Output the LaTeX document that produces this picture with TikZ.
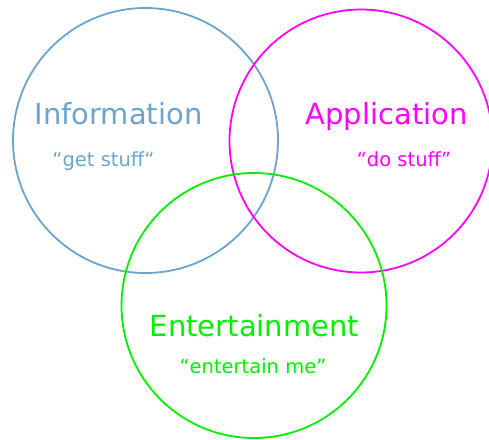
\documentclass[tikz,border=0pt]{standalone}
\usepackage{fontspec}
\setmainfont{DejaVu Sans}
\definecolor{infoblue}{RGB}{110,163,204}
\definecolor{appmag}{RGB}{255,0,255}
\definecolor{entgreen}{RGB}{0,240,0}
\begin{document}
\begin{tikzpicture}[x=1pt,y=-1pt,
  ring/.style={line width=1.8pt},
  title/.style={anchor=base,inner sep=0pt,font=\fontsize{29}{34}\selectfont},
  motto/.style={anchor=base,inner sep=0pt,font=\fontsize{19.5}{23}\selectfont}]
\useasboundingbox (0,0) rectangle (489,439);
\clip (0,0) rectangle (489,439);
\fill[white] (0,0) rectangle (489,439);
\draw[ring,infoblue] (145.5,140.5) circle[radius=132.5];
\draw[ring,appmag] (361,141) circle[radius=131.5];
\draw[ring,entgreen] (254,305.5) circle[radius=132.5];
\node[title,text=infoblue] (info) at (118.5,124) {Information};
\node[motto,text=infoblue] (infom) at (103.5,166) {“get stuff“};
\node[title,text=appmag] (app) at (386.5,124) {Application};
\node[motto,text=appmag] (appm) at (404,166) {“do stuff”};
\node[title,text=entgreen] (ent) at (254.5,336) {Entertainment};
\node[motto,text=entgreen] (entm) at (253,373) {“entertain me”};
\end{tikzpicture}
\end{document}
